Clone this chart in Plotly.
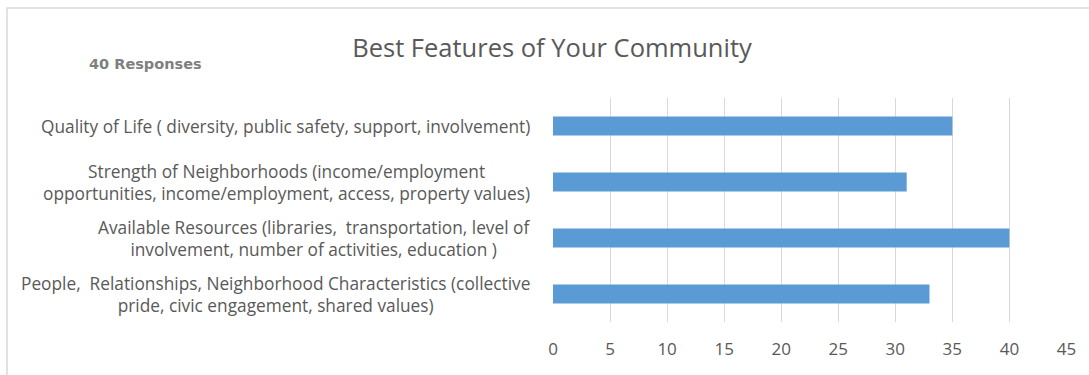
import plotly.graph_objects as go

# Survey results: best features of the community
categories = [
    "Quality of Life ( diversity, public safety, support, involvement)",
    "Strength of Neighborhoods (income/employment<br>opportunities, income/employment, access, property values)",
    "Available Resources (libraries,  transportation, level of<br>involvement, number of activities, education )",
    "People,  Relationships, Neighborhood Characteristics (collective<br>pride, civic engagement, shared values)",
]
responses = [35, 31, 40, 33]
x_ticks = [0, 5, 10, 15, 20, 25, 30, 35, 40, 45]

W, H = 1089, 375
ML, MR, MT, MB = 553, 22, 98, 53
PW, PH = W - ML - MR, H - MT - MB

FONT = "'Open Sans', Lato, sans-serif"
TEXT_GREY = "#595959"

fig = go.Figure(
    go.Bar(
        x=responses,
        y=categories,
        orientation="h",
        marker=dict(color="#5b9bd5", line=dict(width=0)),
        hoverinfo="x+y",
    )
)

# Category labels drawn as centred multi-line annotations beside the axis
for cat in categories:
    fig.add_annotation(
        x=0, xref="paper", y=cat, yref="y",
        text=cat, showarrow=False,
        xanchor="right", yanchor="middle", align="center",
        xshift=-21,
        font=dict(family=FONT, size=17.3, color=TEXT_GREY),
    )

fig.add_annotation(
    x=(145 - ML) / PW, xref="paper", y=1 + (MT - 64) / PH, yref="paper",
    text="<b>40 Responses</b>", showarrow=False,
    xanchor="center", yanchor="middle",
    font=dict(family="'DejaVu Sans', sans-serif", size=14.5, color="#7f7f7f"),
)

# Chart frame
fig.add_shape(
    type="rect", xref="paper", yref="paper",
    x0=(7 - ML) / PW, x1=(W + 10 - ML) / PW,
    y0=-(H + 10 - (MT + PH)) / PH, y1=1 + (MT - 8) / PH,
    line=dict(color="#d9d9d9", width=1.5), fillcolor="rgba(0,0,0,0)",
    layer="below",
)

fig.update_layout(
    width=W, height=H,
    margin=dict(l=ML, r=MR, t=MT, b=MB, pad=0),
    paper_bgcolor="white", plot_bgcolor="white",
    showlegend=False,
    bargap=0.66,
    title=dict(
        text="Best Features of Your Community",
        x=552 / W, xanchor="center",
        y=1 - 48 / H, yanchor="middle",
        font=dict(family=FONT, size=25.5, color=TEXT_GREY),
    ),
    xaxis=dict(
        range=[0, 45.05], tickvals=x_ticks,
        showgrid=True, gridcolor="#d9d9d9", gridwidth=1,
        zeroline=False, showline=False, ticks="",
        tickfont=dict(family=FONT, size=17, color=TEXT_GREY),
        ticklabelstandoff=15,
        fixedrange=True,
    ),
    yaxis=dict(
        categoryorder="array", categoryarray=categories,
        autorange="reversed",
        showticklabels=False, showgrid=False, zeroline=False,
        showline=False, ticks="",
        fixedrange=True,
    ),
)

fig.write_html("out.html")
